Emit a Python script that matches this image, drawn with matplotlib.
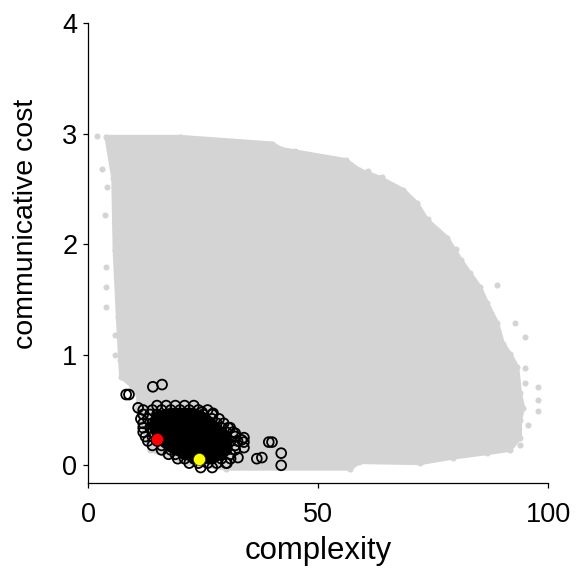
import matplotlib
matplotlib.use("Agg")
import matplotlib.pyplot as plt

plt.rcParams['font.family'] = ['Liberation Sans', 'DejaVu Sans']

# ---- data ----
# outline of the dense grey cloud of all candidate systems
gray_outline_x = [4, 20, 40, 42, 56, 59, 63.5, 68.5, 71.5, 73.7, 78, 81, 83, 85.2, 86.7,
                  88.9, 90.2, 91.7, 93.3, 93.9, 94.6, 93.9, 93.9, 91.7, 86.7, 79.3, 72.2,
                  59, 57, 30, 21.5, 13.5, 10.7, 11.0, 9.5, 7.2, 6.5, 5.8, 5.5]
gray_outline_y = [2.97, 2.97, 2.91, 2.86, 2.76, 2.67, 2.60, 2.49, 2.37, 2.22, 2.06, 1.86, 1.74,
                  1.61, 1.47, 1.29, 1.10, 1.01, 0.89, 0.65, 0.52, 0.41, 0.25, 0.14, 0.11, 0.07,
                  0.02, 0.03, -0.03, -0.03, 0.02, 0.14, 0.50, 0.62, 0.72, 0.80, 1.34, 1.95, 2.6]
# isolated grey points outside the dense cloud
gray_pts_x = [2.0, 3.0, 4.1, 3.7, 3.9, 3.9, 3.9, 5.9, 5.9, 7.0, 45.0, 60.9, 63.9, 73.9,
              80.0, 88.9, 92.8, 95.0, 95.0, 95.0, 97.8, 97.8, 97.8, 95.7, 93.9]
gray_pts_y = [2.98, 2.68, 2.52, 2.26, 1.79, 1.61, 1.43, 1.18, 1.00, 0.95, 2.84, 2.66, 2.61, 2.23,
              1.96, 1.63, 1.29, 1.16, 0.88, 0.74, 0.71, 0.59, 0.49, 0.36, 0.18]

# natural-language systems (open black circles): rows of the dense core + outliers
core_rows = [
    (0.54, [15, 17, 19, 21, 23]),
    (0.50, [12, 14, 16, 18, 20, 22, 24, 26]),
    (0.46, [12, 13.5, 15, 17, 19, 21, 23, 25, 27]),
    (0.42, [11.5, 13, 15, 17, 19, 21, 23, 25, 27, 28.5]),
    (0.38, [12, 14, 16, 18, 20, 22, 24, 26, 28, 29.5]),
    (0.34, [12, 13.5, 15, 17, 19, 21, 23, 25, 27, 29, 30.5]),
    (0.30, [12, 14, 16, 18, 20, 22, 24, 26, 28, 30, 31.5]),
    (0.26, [12.5, 14, 16, 18, 20, 22, 24, 26, 28, 30, 32]),
    (0.22, [13, 15, 17, 19, 21, 23, 25, 27, 29, 31, 32.5]),
    (0.18, [14, 16, 18, 20, 22, 24, 26, 28, 30, 32]),
    (0.14, [16, 18, 20, 22, 24, 26, 28, 30, 32]),
    (0.10, [17.5, 19, 21, 23, 25, 27, 29, 31]),
    (0.06, [19.5, 21, 23, 25, 27, 29, 31]),
    (0.02, [22, 24, 26, 28, 30]),
    (-0.02, [24.5, 27]),
]
# region where the circles overlap into solid black
core_fill_x = [14, 18, 23, 26, 29, 31, 31.5, 30, 27, 23, 20, 17, 14.5, 13]
core_fill_y = [0.48, 0.52, 0.52, 0.47, 0.36, 0.25, 0.15, 0.07, 0.01, 0.02, 0.07, 0.13, 0.22, 0.35]

outlier_x = [8.3, 8.9, 14.1, 16.1, 10.9, 39.3, 40.0, 36.7, 37.8, 42.0, 42.0, 33.9, 33.9,
             33.9, 33.4, 30.9, 27.2, 24.8, 32.0, 32.6, 30.2]
outlier_y = [0.64, 0.64, 0.71, 0.73, 0.52, 0.21, 0.21, 0.06, 0.07, 0.11, 0.00, 0.25, 0.21,
             0.16, 0.23, 0.34, 0.47, 0.48, 0.29, 0.07, 0.02]

red_x, red_y = [15.0], [0.24]
yellow_x, yellow_y = [24.1], [0.06]

x_ticks = [0, 50, 100]
y_ticks = [0, 1, 2, 3, 4]

# ---- figure ----
W, H = 577, 569
fig = plt.figure(figsize=(W / 100, H / 100), dpi=100)
ax = fig.add_axes([88 / W, 1 - 483 / H, (548 - 88) / W, (483 - 23) / H])

gray = '#d4d4d4'
ax.fill(gray_outline_x, gray_outline_y, color=gray, lw=3, zorder=1)
ax.scatter(gray_outline_x, gray_outline_y, s=19, color=gray, lw=0, zorder=1)
ax.scatter(gray_pts_x, gray_pts_y, s=19, color=gray, lw=0, zorder=1)

ax.fill(core_fill_x, core_fill_y, color='black', lw=0, zorder=2)
cx, cy = [], []
for yv, xs in core_rows:
    for xv in xs:
        cx.append(xv)
        cy.append(yv)
cx += outlier_x
cy += outlier_y
ax.scatter(cx, cy, s=50, facecolors='none', edgecolors='black', linewidths=1.3, zorder=2)

ax.scatter(red_x, red_y, s=75, color='#ff0000', edgecolors='#300000', linewidths=0.4, zorder=3)
ax.scatter(yellow_x, yellow_y, s=75, color='#ffff00', edgecolors='#303000', linewidths=0.4, zorder=3)

ax.set_xlim(0, 100)
ax.set_ylim(-0.16, 4.0)
ax.set_xticks(x_ticks)
ax.set_yticks(y_ticks)
ax.spines['top'].set_visible(False)
ax.spines['right'].set_visible(False)
for s in ('left', 'bottom'):
    ax.spines[s].set_linewidth(0.9)
ax.tick_params(axis='both', direction='out', length=3.6, width=0.9, labelsize=19.5)
ax.tick_params(axis='x', pad=10)
ax.tick_params(axis='y', pad=4)
ax.set_xlabel('complexity', fontsize=22.4, labelpad=6)
ax.set_ylabel('communicative cost', fontsize=20.5)
ax.yaxis.set_label_coords(-0.107, 0.563)

fig.savefig('out.png', dpi=100)
